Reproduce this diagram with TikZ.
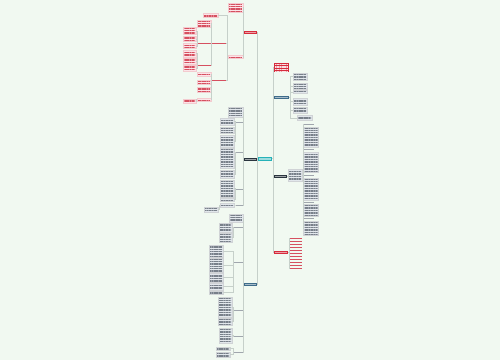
\documentclass[tikz,border=0pt]{standalone}
\usepackage{xcolor}
\usepackage{tikz}
\usetikzlibrary{patterns.meta}
\definecolor{mapgreen}{RGB}{241,249,241}
\definecolor{mapteal}{RGB}{38,178,184}
\definecolor{mapred}{RGB}{214,44,60}
\definecolor{mapdark}{RGB}{42,52,62}
\definecolor{mapblue}{RGB}{62,108,138}
\definecolor{lightpink}{RGB}{252,228,232}
\definecolor{pinktext}{RGB}{214,80,96}
\definecolor{boxgray}{RGB}{226,231,236}
\definecolor{boxtext}{RGB}{120,128,138}
\definecolor{linkgray}{RGB}{198,208,202}
\tikzset{
  txtlines/.style={path picture={\fill[pattern={Lines[distance=1.7pt,line width=.7pt]}, pattern color=#1]
      ([xshift=1pt,yshift=-.7pt]path picture bounding box.north west) rectangle
      ([xshift=-1pt,yshift=.7pt]path picture bounding box.south east);}},
  sz/.style 2 args={minimum width=#1pt, minimum height=#2pt},
  hub/.style={rectangle, inner sep=0pt, fill=#1,
    path picture={\fill[white, opacity=.55]
      ([xshift=1.2pt,yshift=-1pt]path picture bounding box.north west) rectangle
      ([xshift=-1.2pt,yshift=1pt]path picture bounding box.south east);}},
  tb/.style={rectangle, inner sep=0pt, fill=boxgray, draw=boxtext!35, line width=.2pt, txtlines=boxtext},
  pb/.style={rectangle, inner sep=0pt, fill=lightpink, draw=pinktext!30, line width=.2pt, txtlines=pinktext},
  tline/.style={rectangle, inner sep=0pt, fill=#1, minimum height=1pt},
  link/.style={draw=linkgray, line width=.5pt}
}

\begin{document}
\begin{tikzpicture}[x=1pt, y=-1pt]
  \fill[mapgreen] (0,0) rectangle (500,360);
  % central topic
  \node[hub=mapteal, sz={14}{4}] (ctr) at (265,158.5) {};
  % main branches
  \node[hub=mapred, sz={13}{3}] (lred) at (250.5,32.5) {};
  \node[hub=mapdark, sz={13}{3}] (ldark) at (250.5,159) {};
  \node[hub=mapblue, sz={13}{3}] (lblue) at (250.5,284.5) {};
  \node[rectangle, inner sep=0pt, fill=mapred, txtlines=white!85!mapred, sz={15}{9}] (rred) at (281.5,67.5) {};
  \node[hub=mapblue, sz={15}{3}] (rblue) at (281.5,97.5) {};
  \node[hub=mapdark, sz={13}{3}] (rdark) at (280.5,176) {};
  \node[hub=mapred, sz={14}{3}] (rred2) at (281,252) {};

  % left, red branch
  \node[pb, sz={15}{9}] (a) at (235.5,7.5) {};
  \node[pb, sz={15}{3}] (b) at (235.5,57) {};
  \node[pb, sz={15}{4}] (b1) at (210.5,15) {};
  \node[tline=pinktext, minimum width=14pt] (b2) at (219,43) {};
  \node[tline=pinktext, minimum width=14pt] (b3) at (219,80) {};
  \node[pb, sz={14}{7}] (b2a) at (204,23.5) {};
  \node[tline=pinktext, minimum width=13pt] (b2b) at (204.5,43) {};
  \node[tline=pinktext, minimum width=13pt] (b2c) at (204.5,65) {};
  \foreach \n/\y/\h in {p1/31/7, p2/39/5, p3/46/5, p4/53.5/7, p5/61/6, p6/68/6}
    \node[pb, sz={13}{\h}] (\n) at (189.5,\y) {};
  \foreach \n/\y/\h in {q1/74/4, q2/82/4, q3/89.5/5, q4/99.5/3}
    \node[pb, sz={14}{\h}] (\n) at (204,\y) {};
  \node[pb, sz={13}{4}] (q5) at (189.5,101) {};

  % left, dark branch
  \node[tb, sz={15}{10}] (d1) at (235.5,112) {};
  \foreach \n/\y in {d2/122, d3/152, d4/189, d5/205}
    \node[tline=boxtext!70, minimum width=7pt] (\n) at (239.5,\y) {};
  \foreach \n/\y/\h in {r1/121.5/7, r2/130/6, r3/141/12, r4/158/20, r5/174/8, r6/188.5/17, r7/199.5/3, r8/205/4}
    \node[tb, sz={14}{\h}] (\n) at (227,\y) {};
  \node[tb, sz={14}{5}] (r9) at (211,209.5) {};

  % left, blue branch
  \node[tb, sz={14}{8}] (e1) at (236,218) {};
  \foreach \n/\y in {e2/227, e3/262, e4/310, e5/336, e6/352}
    \node[tline=boxtext!70, minimum width=9pt] (\n) at (238.5,\y) {};
  \foreach \n/\y/\h in {s1/227.5/9, s2/237.5/9, s10/335.5/15}
    \node[tb, sz={13}{\h}] (\n) at (225.5,\y) {};
  \foreach \n/\y/\h in {s3/251/12, s4/265/14, s5/277.5/9, s6/286.5/7, s7/292.5/3}
    \node[tb, sz={14}{\h}] (\n) at (216,\y) {};
  \node[tb, sz={14}{20}] (s8) at (225,307) {};
  \node[tb, sz={14}{7}] (s9) at (225,321.5) {};
  \node[tb, sz={14}{3}] (s11) at (223,348.5) {};
  \node[tb, sz={14}{5}] (s12) at (223,354.5) {};

  % right, blue branch
  \foreach \n/\y/\h in {t1/76.5/7, t2/86/6, t3/92/3, t4/101.5/7, t5/110/6}
    \node[tb, sz={14}{\h}] (\n) at (300,\y) {};
  \node[tb, sz={15}{5}] (t6) at (304.5,118) {};

  % right, dark branch
  \node[tb, sz={14}{12}] (h1) at (295,175) {};
  \foreach \n/\y in {u1/124, u3/149.5, u5/175, u7/202, u9/218.5}
    \node[tline=boxtext!70, minimum width=10pt] (\n) at (308.5,\y) {};
  \foreach \n/\y/\h in {u2/137/20, u4/162/20, u6/189/22, u8/210/12, u10/228/14}
    \node[tb, sz={15}{\h}] (\n) at (311,\y) {};

  % right, red branch
  \foreach \k in {0,...,10}
    \node[tline=pinktext, minimum width=12pt] (v\k) at (296,238+3*\k) {};

  % connectors
  \foreach \p/\c in {ctr/lred, ctr/ldark, ctr/lblue,
      lred/a, lred/b, b/b1, b/b2, b/b3, b2/b2a, b2/b2b, b2/b2c,
      b2b/p1, b2b/p2, b2b/p3, b2c/p4, b2c/p5, b2c/p6,
      b3/q1, b3/q2, b3/q3, b3/q4, q4/q5,
      ldark/d1, ldark/d2, ldark/d3, ldark/d4, ldark/d5,
      d2/r1, d2/r2, d2/r3, d3/r4, d3/r5, d4/r6, d4/r7, d5/r8, r8/r9,
      lblue/e1, lblue/e2, lblue/e3, lblue/e4, lblue/e5, lblue/e6,
      e2/s1, e2/s2, e3/s3, e3/s4, e3/s5, e3/s6, e3/s7,
      e4/s8, e4/s9, e5/s10, e6/s11, e6/s12}
    \draw[link] (\p.west) -- ++(-1,0) |- (\c.east);
  \foreach \p/\c in {ctr/rred, ctr/rblue, ctr/rdark, ctr/rred2,
      rblue/t1, rblue/t2, rblue/t3, rblue/t4, rblue/t5, rblue/t6,
      rdark/h1, h1/u1, h1/u2, h1/u3, h1/u4, h1/u5, h1/u6, h1/u7, h1/u8, h1/u9, h1/u10}
    \draw[link] (\p.east) -- ++(1,0) |- (\c.west);
  \foreach \k in {0,...,10}
    \draw[link] (rred2.east) -- ++(1,0) |- (v\k.west);
\end{tikzpicture}
\end{document}
